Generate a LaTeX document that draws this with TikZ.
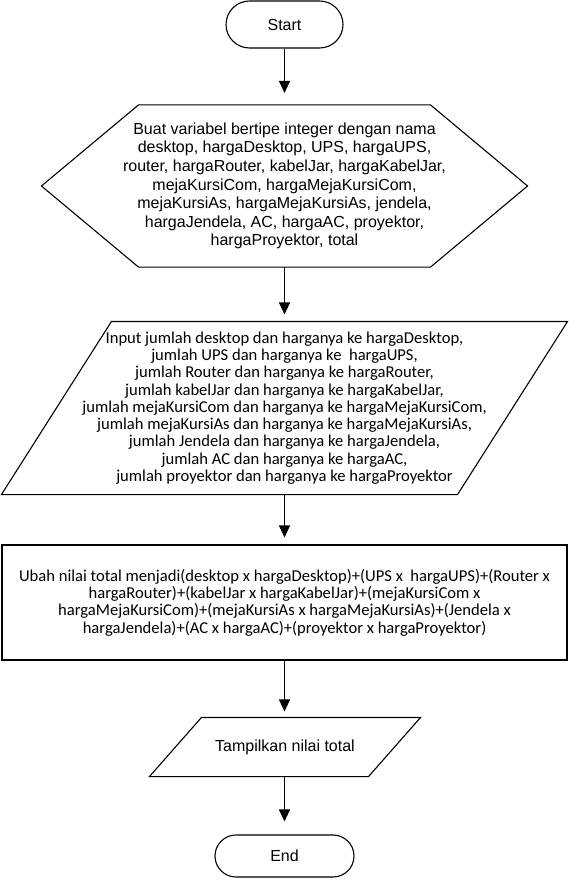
\documentclass[tikz,border=0pt]{standalone}
\usepackage{fontspec}
\setmainfont{Liberation Sans}
\newfontfamily\carlito{Carlito}
\usepackage{tikz}
\tikzset{
every picture/.style={line width=1.1pt, x=1pt, y=-1pt},
every node/.style={align=center, inner sep=0pt, font=\fontsize{16}{18.6}\selectfont},
terminal/.style={draw, rounded corners=#1, minimum height=2*#1},
calibri/.style={font=\carlito\fontsize{16.6}{17.3}\selectfont},
flow/.style={-{Triangle[length=12pt,width=11pt]}}
}
\usetikzlibrary{arrows.meta}

\begin{document}
\begin{tikzpicture}
  \useasboundingbox (0,0) rectangle (568,880);
  \node[terminal=23.5pt, minimum width=117pt] (start) at (284.5,24.5) {Start};
  \node[minimum width=485pt, minimum height=161pt] (decl) at (284.5,186) {Buat variabel bertipe integer dengan nama\\
    desktop, hargaDesktop, UPS, hargaUPS,\\
    router, hargaRouter, kabelJar, hargaKabelJar,\\
    mejaKursiCom, hargaMejaKursiCom,\\
    mejaKursiAs, hargaMejaKursiAs, jendela,\\
    hargaJendela, AC, hargaAC, proyektor,\\
    hargaProyektor, total};
  \draw (decl.west) -- ([xshift=97pt]decl.north west) -- ([xshift=-97pt]decl.north east)
    -- (decl.east) -- ([xshift=-97pt]decl.south east) -- ([xshift=97pt]decl.south west) -- cycle;
  \node[calibri, minimum width=565pt, minimum height=172pt] (inp) at (284.5,408) {Input jumlah desktop dan harganya ke hargaDesktop,\\
    jumlah UPS dan harganya ke\ \ hargaUPS,\\
    jumlah Router dan harganya ke hargaRouter,\\
    jumlah kabelJar dan harganya ke hargaKabelJar,\\
    jumlah mejaKursiCom dan harganya ke hargaMejaKursiCom,\\
    jumlah mejaKursiAs dan harganya ke hargaMejaKursiAs,\\
    jumlah Jendela dan harganya ke hargaJendela,\\
    jumlah AC dan harganya ke hargaAC,\\
    jumlah proyektor dan harganya ke hargaProyektor};
  \draw ([xshift=110pt]inp.north west) -- (inp.north east) -- ([xshift=-110pt]inp.south east)
    -- (inp.south west) -- cycle;
  \node[calibri, draw, minimum width=565pt, minimum height=115pt] (hitung) at (284.5,602.5) {Ubah nilai total menjadi(desktop x hargaDesktop)+(UPS x\ \ hargaUPS)+(Router x\\
    hargaRouter)+(kabelJar x hargaKabelJar)+(mejaKursiCom x\\
    hargaMejaKursiCom)+(mejaKursiAs x hargaMejaKursiAs)+(Jendela x\\
    hargaJendela)+(AC x hargaAC)+(proyektor x hargaProyektor)};
  \node[minimum width=270pt, minimum height=58pt] (tampil) at (285,747) {Tampilkan nilai total};
  \draw ([xshift=52pt]tampil.north west) -- (tampil.north east) -- ([xshift=-52pt]tampil.south east)
    -- (tampil.south west) -- cycle;
  \node[terminal=21pt, minimum width=139pt] (selesai) at (284.5,856) {End};
  % arrows
  \draw[flow, shorten >=12pt] (start.south) -- (decl.north);
  \draw[flow, shorten >=7pt] (decl.south) -- (inp.north);
  \draw[flow, shorten >=7pt] (inp.south) -- (hitung.north);
  \draw[flow, shorten >=6pt] (hitung.south) -- ([xshift=-0.5pt]tampil.north);
  \draw[flow, shorten >=13pt] ([xshift=-0.5pt]tampil.south) -- (selesai.north);
\end{tikzpicture}
\end{document}
